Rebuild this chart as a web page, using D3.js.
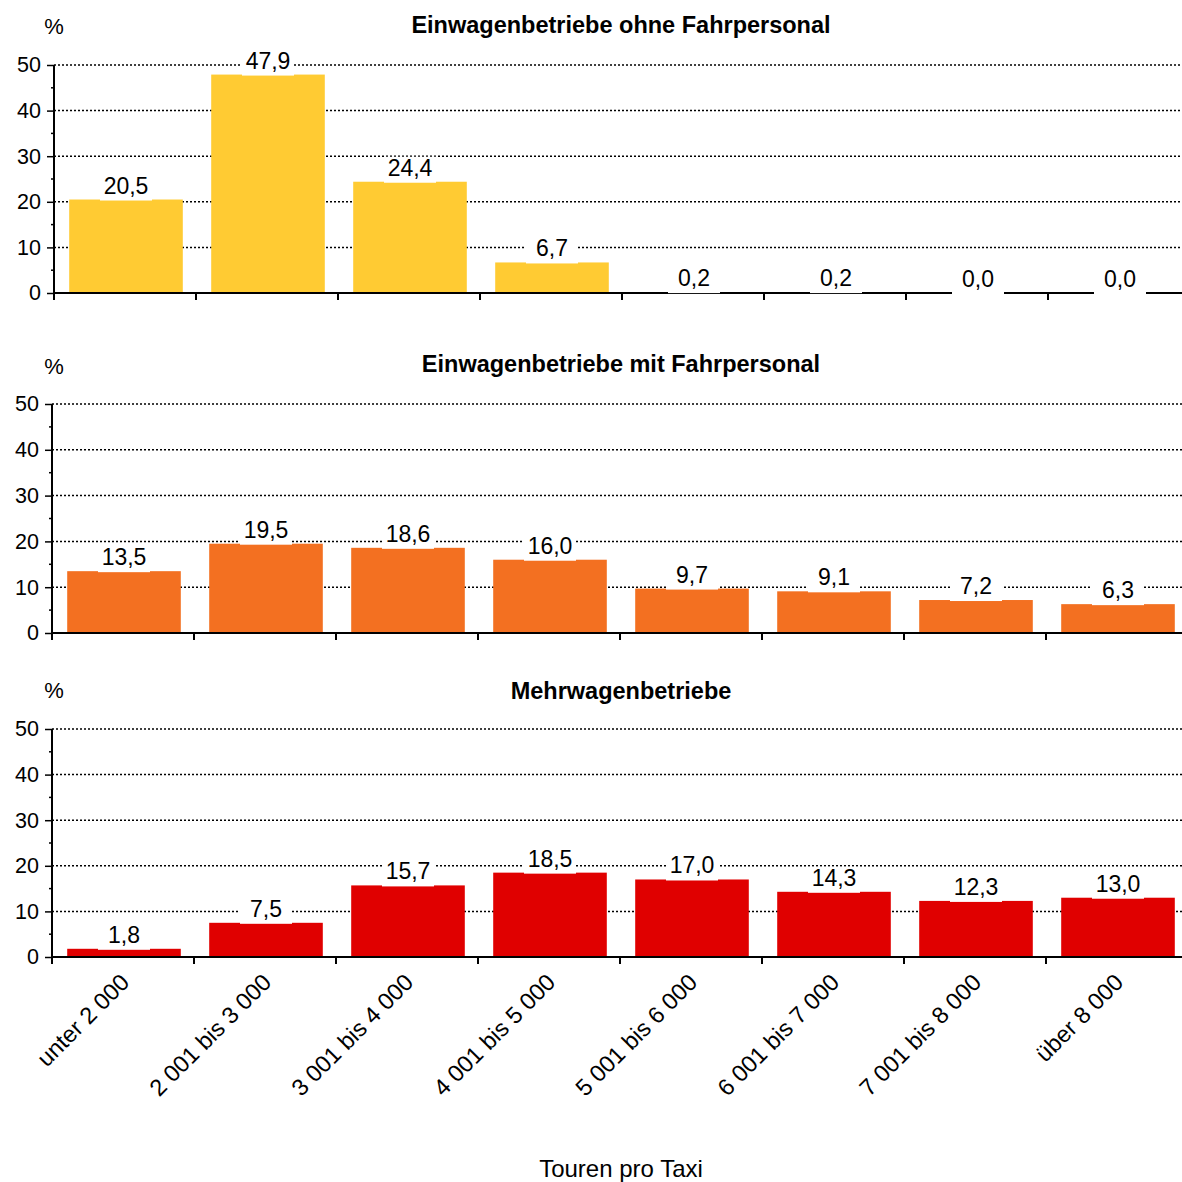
<!DOCTYPE html>
<html><head><meta charset="utf-8">
<script src="https://cdn.jsdelivr.net/npm/d3@7"></script>
<style>body{margin:0;background:#fff}svg{display:block}text{font-family:"Liberation Sans",Arial,sans-serif}</style>
</head><body>
<svg id="c" width="1182" height="1182"></svg>
<script>
const categories = ["unter 2 000","2 001 bis 3 000","3 001 bis 4 000","4 001 bis 5 000","5 001 bis 6 000","6 001 bis 7 000","7 001 bis 8 000","über 8 000"];
const titles = ["Einwagenbetriebe ohne Fahrpersonal","Einwagenbetriebe mit Fahrpersonal","Mehrwagenbetriebe"];
const ohneFahrpersonal = [20.5,47.9,24.4,6.7,0.2,0.2,0.0,0.0];
const mitFahrpersonal = [13.5,19.5,18.6,16.0,9.7,9.1,7.2,6.3];
const mehrwagen = [1.8,7.5,15.7,18.5,17.0,14.3,12.3,13.0];
const yTicks = [0,10,20,30,40,50];
const colors = ["#FFCB33","#F37021","#E00000"];
const xTitle = "Touren pro Taxi";

const svg = d3.select("#c");
const panels = [
  {vals: ohneFahrpersonal, x0: 54, y0: 293, y50: 65, titleY: 33, pctY: 34},
  {vals: mitFahrpersonal, x0: 52, y0: 633, y50: 404, titleY: 372, pctY: 374},
  {vals: mehrwagen, x0: 52, y0: 957, y50: 729, titleY: 699, pctY: 698}
];
const fmt = v => v.toFixed(1).replace(".", ",");

panels.forEach((p, i) => {
  const g = svg.append("g");
  const x = d3.scaleBand().domain(categories).range([p.x0, p.x0 + 8*142]).paddingInner(0.2).paddingOuter(0.1);
  const y = d3.scaleLinear().domain([0,50]).range([p.y0, p.y50]);
  g.selectAll(".grid").data(yTicks.filter(t => t > 0)).join("line")
    .attr("x1", p.x0).attr("x2", 1182).attr("y1", d => y(d)).attr("y2", d => y(d))
    .attr("stroke", "#000").attr("stroke-width", 1.5).attr("stroke-dasharray", "2,2");
  g.selectAll(".minor").data(d3.range(5, 50, 10)).join("line")
    .attr("x1", p.x0 - 3).attr("x2", p.x0).attr("y1", d => y(d)).attr("y2", d => y(d))
    .attr("stroke", "#000").attr("stroke-width", 1.5);
  const ya = g.append("g").attr("transform", `translate(${p.x0},0)`)
    .call(d3.axisLeft(y).tickValues(yTicks).tickSize(7).tickPadding(6).tickFormat(d3.format("d")));
  ya.select(".domain").remove();
  ya.selectAll(".tick line").attr("stroke", "#000").attr("stroke-width", 1.5);
  ya.selectAll(".tick text").attr("font-size", 21.5).attr("fill", "#000").attr("font-family", '"Liberation Sans",Arial,sans-serif');
  g.append("line").attr("x1", p.x0).attr("x2", p.x0).attr("y1", y(50)).attr("y2", p.y0 + 7)
    .attr("stroke", "#000").attr("stroke-width", 2);
  g.selectAll(".bar").data(p.vals).join("rect")
    .attr("x", (d, j) => x(categories[j]) + 1).attr("width", x.bandwidth())
    .attr("y", d => y(d)).attr("height", d => y(0) - y(d))
    .attr("fill", colors[i]);
  g.append("line").attr("x1", p.x0).attr("x2", 1182).attr("y1", p.y0).attr("y2", p.y0)
    .attr("stroke", "#000").attr("stroke-width", 2);
  g.selectAll(".xt").data(d3.range(0, 9)).join("line")
    .attr("x1", k => p.x0 + k*x.step()).attr("x2", k => p.x0 + k*x.step())
    .attr("y1", p.y0).attr("y2", p.y0 + 7).attr("stroke", "#000").attr("stroke-width", 2);
  const lab = g.selectAll(".lab").data(p.vals).join("g")
    .attr("transform", (d, j) => `translate(${x(categories[j]) + x.bandwidth()/2 + 1},${y(d)})`);
  lab.append("rect").attr("x", -26).attr("y", -25).attr("width", 52).attr("height", 26).attr("fill", "#fff");
  lab.append("text").attr("text-anchor", "middle").attr("y", -6).attr("font-size", 23).attr("fill", "#000")
    .text(d => fmt(d));
  svg.append("text").attr("x", 621).attr("y", p.titleY).attr("text-anchor", "middle")
    .attr("font-size", 23.5).attr("font-weight", "bold").text(titles[i]);
  svg.append("text").attr("x", 54).attr("y", p.pctY).attr("text-anchor", "middle")
    .attr("font-size", 22).text("%");
  if (i === 2) {
    g.selectAll(".xl").data(categories).join("text")
      .attr("transform", d => `translate(${x(d) + x.bandwidth()/2 + 2},${p.y0 + 21}) rotate(-45)`)
      .attr("text-anchor", "end").attr("font-size", 23.5).attr("dy", "0.35em").text(d => d);
  }
});
svg.append("text").attr("x", 621).attr("y", 1177).attr("text-anchor", "middle").attr("font-size", 24).text(xTitle);
</script>
</body></html>
